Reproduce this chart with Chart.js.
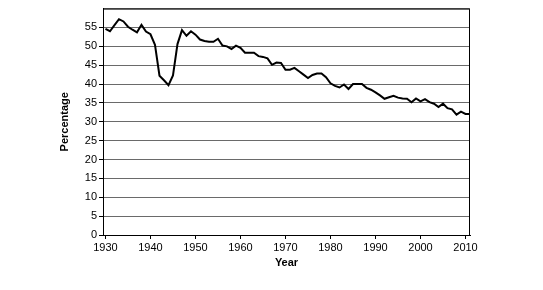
<!DOCTYPE html>
<html>
<head>
<meta charset="utf-8">
<script src="https://cdn.jsdelivr.net/npm/chart.js@4/dist/chart.umd.min.js"></script>
<style>
html,body{margin:0;padding:0;background:#fff;}
#wrap{width:543px;height:290px;}
</style>
</head>
<body>
<div id="wrap"><canvas id="c" width="543" height="290"></canvas></div>
<script>
const years = [];
for (let y = 1930; y <= 2011; y++) years.push(y);
const percentage = [
  54.6, 54.0, 55.6, 57.2, 56.6, 55.2, 54.4, 53.7, 55.7, 53.9,
  53.2, 50.4, 42.2, 41.0, 39.7, 42.3, 50.6, 54.3, 52.8, 54.0,
  53.1, 51.8, 51.4, 51.2, 51.2, 52.0, 50.2, 50.0, 49.3, 50.2,
  49.6, 48.3, 48.3, 48.3, 47.4, 47.2, 46.8, 45.1, 45.7, 45.6,
  43.8, 43.8, 44.3, 43.4, 42.5, 41.6, 42.4, 42.8, 42.8, 41.8,
  40.2, 39.5, 39.1, 39.9, 38.7, 40.0, 40.0, 40.0, 39.0, 38.5,
  37.8, 37.0, 36.1, 36.5, 36.9, 36.4, 36.2, 36.1, 35.2, 36.2,
  35.4, 36.0, 35.2, 34.8, 33.9, 34.8, 33.6, 33.3, 31.9, 32.7,
  32.1, 32.1
];
const xTicks = [1930, 1940, 1950, 1960, 1970, 1980, 1990, 2000, 2010];
const yTicks = [0, 5, 10, 15, 20, 25, 30, 35, 40, 45, 50, 55, 60];

const font = {family: '"Liberation Sans", Arial, sans-serif', size: 11};
const fontBold = {family: '"Liberation Sans", Arial, sans-serif', size: 11, weight: 'bold'};

const borderPlugin = {
  id: 'plotBorder',
  afterDraw(chart) {
    const {ctx, chartArea: a} = chart;
    ctx.save();
    ctx.strokeStyle = '#000';
    ctx.lineWidth = 1;
    ctx.beginPath();
    ctx.moveTo(a.left, a.top + 0.5);
    ctx.lineTo(a.right - 0.5, a.top + 0.5);
    ctx.lineTo(a.right - 0.5, a.bottom);
    ctx.stroke();
    ctx.restore();
  }
};

new Chart(document.getElementById('c'), {
  type: 'line',
  data: {
    datasets: [{
      data: years.map((y, i) => ({x: y, y: percentage[i]})),
      borderColor: '#000',
      borderWidth: 2,
      pointRadius: 0,
      tension: 0,
      fill: false
    }]
  },
  options: {
    responsive: false,
    animation: false,
    events: [],
    layout: {padding: {top: 6, right: 73, left: 0, bottom: 0}},
    plugins: {legend: {display: false}, tooltip: {enabled: false}},
    scales: {
      x: {
        type: 'linear',
        min: 1929.45,
        max: 2011,
        afterBuildTicks: s => { s.ticks = xTicks.map(v => ({value: v})); },
        afterFit: s => { s.height = 55; },
        ticks: {font: font, color: '#000', padding: 2, maxRotation: 0, autoSkip: false,
                callback: v => String(v)},
        grid: {drawOnChartArea: false, drawTicks: true, tickLength: 4, tickColor: '#000'},
        border: {color: '#000', width: 1},
        title: {display: true, text: 'Year', font: fontBold, color: '#000',
                padding: {top: 0, bottom: 20.4}}
      },
      y: {
        type: 'linear',
        min: 0,
        max: 60,
        afterBuildTicks: s => { s.ticks = yTicks.map(v => ({value: v})); },
        afterFit: s => { s.width = 103; },
        ticks: {font: font, color: '#000', padding: 2, autoSkip: false,
                callback: v => (v === 60 ? '' : String(v))},
        grid: {
          color: ctx => (ctx.tick && ctx.tick.value === 0 ? 'rgba(0,0,0,0)' : '#6a6a6a'),
          tickColor: ctx => (ctx.tick && ctx.tick.value === 60 ? 'rgba(0,0,0,0)' : '#000'),
          tickLength: 4,
          lineWidth: 1
        },
        border: {color: '#000', width: 1},
        title: {display: true, text: 'Percentage', font: fontBold, color: '#000',
                padding: {top: 58.4, bottom: 0}}
      }
    }
  },
  plugins: [borderPlugin]
});
</script>
</body>
</html>
